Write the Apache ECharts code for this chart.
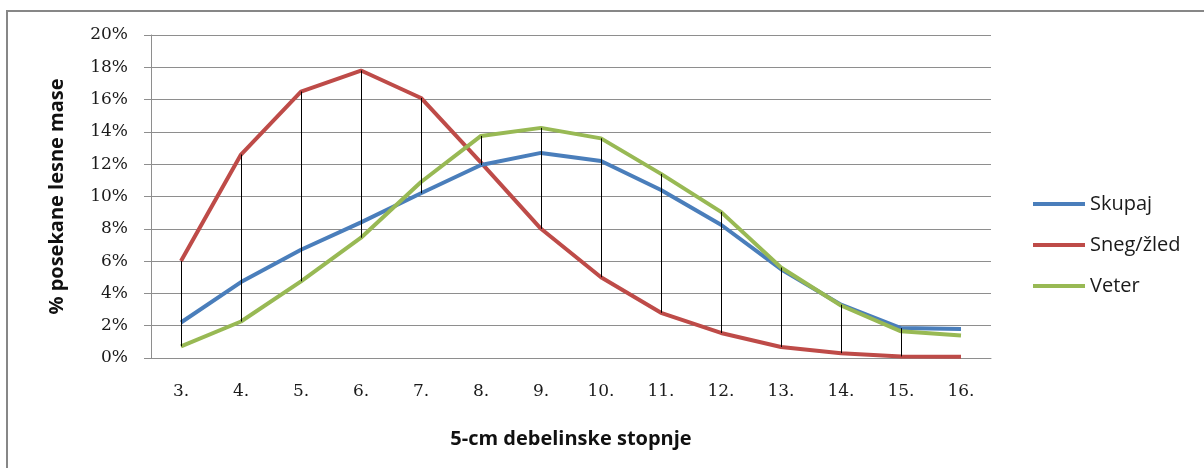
<!DOCTYPE html>
<html>
<head>
<meta charset="utf-8">
<script src="https://cdn.jsdelivr.net/npm/echarts@6/dist/echarts.min.js"></script>
<style>
html,body{margin:0;padding:0;background:#ffffff;}
#chart{width:1204px;height:468px;}
</style>
</head>
<body>
<div id="chart"></div>
<script>
const categories = ['3.', '4.', '5.', '6.', '7.', '8.', '9.', '10.', '11.', '12.', '13.', '14.', '15.', '16.'];
const skupaj = [2.2, 4.7, 6.7, 8.4, 10.2, 11.95, 12.7, 12.2, 10.4, 8.25, 5.5, 3.3, 1.85, 1.8];
const snegZled = [6.0, 12.6, 16.5, 17.8, 16.1, 12.1, 8.0, 5.0, 2.8, 1.55, 0.68, 0.3, 0.1, 0.08];
const veter = [0.72, 2.26, 4.75, 7.45, 10.9, 13.75, 14.25, 13.6, 11.4, 9.05, 5.6, 3.25, 1.65, 1.4];
const seriesNames = ['Skupaj', 'Sneg/žled', 'Veter'];
const yTicks = { min: 0, max: 20, interval: 2 };
const hiLoCount = 13; // high-low lines are drawn for categories 3.–15.

const hiLoData = [];
for (let i = 0; i < hiLoCount; i++) {
  const vals = [skupaj[i], snegZled[i], veter[i]];
  hiLoData.push([i, Math.max(...vals), Math.min(...vals)]);
}

const chart = echarts.init(document.getElementById('chart'), null, { renderer: 'canvas' });
const gridColor = '#8e8e8e';
const lineW = 4;

chart.setOption({
  backgroundColor: '#ffffff',
  animation: false,
  graphic: [{
    type: 'rect',
    shape: { x: 7, y: 11, width: 1400, height: 700 },
    style: { fill: 'none', stroke: '#878787', lineWidth: 2 },
    silent: true
  }],
  grid: { left: 151, right: 213, top: 35, bottom: 110 },
  legend: {
    data: seriesNames,
    orient: 'vertical',
    left: 1028,
    top: 188,
    icon: 'rect',
    itemWidth: 52,
    itemHeight: 4,
    itemGap: 19,
    textStyle: { fontFamily: 'Open Sans', fontSize: 20, color: '#1a1a1a', lineHeight: 22 }
  },
  xAxis: {
    type: 'category',
    data: categories,
    boundaryGap: true,
    name: '5-cm debelinske stopnje',
    nameLocation: 'middle',
    nameGap: 71,
    nameTextStyle: { fontFamily: 'Open Sans', fontWeight: 'bold', fontSize: 20, color: '#111' },
    axisLine: { show: true, lineStyle: { color: gridColor, width: 1 } },
    axisTick: { show: false },
    axisLabel: { fontFamily: 'DejaVu Serif', fontSize: 17, color: '#1a1a1a', margin: 25 },
    splitLine: { show: false }
  },
  yAxis: {
    type: 'value',
    min: yTicks.min,
    max: yTicks.max,
    interval: yTicks.interval,
    name: '% posekane lesne mase',
    nameLocation: 'middle',
    nameGap: 84,
    nameTextStyle: { fontFamily: 'Open Sans', fontWeight: 'bold', fontSize: 20, color: '#111' },
    axisLine: { show: true, lineStyle: { color: gridColor, width: 1 } },
    axisTick: { show: true, length: 7, lineStyle: { color: gridColor, width: 1 } },
    axisLabel: { fontFamily: 'DejaVu Serif', fontSize: 17, color: '#1a1a1a', margin: 23, formatter: '{value}%' },
    splitLine: { show: true, lineStyle: { color: gridColor, width: 1 } }
  },
  series: [
    {
      name: 'Skupaj', type: 'line', data: skupaj, symbol: 'none', smooth: false,
      itemStyle: { color: '#4A7EBB' }, lineStyle: { color: '#4A7EBB', width: lineW }, z: 3
    },
    {
      name: 'Sneg/žled', type: 'line', data: snegZled, symbol: 'none', smooth: false,
      itemStyle: { color: '#BE4B48' }, lineStyle: { color: '#BE4B48', width: lineW }, z: 2
    },
    {
      name: 'Veter', type: 'line', data: veter, symbol: 'none', smooth: false,
      itemStyle: { color: '#98B954' }, lineStyle: { color: '#98B954', width: lineW }, z: 4
    },
    {
      name: 'hilo', type: 'custom', data: hiLoData, z: 5, silent: true,
      encode: { x: 0, y: [1, 2] },
      renderItem: function (params, api) {
        const hi = api.coord([api.value(0), api.value(1)]);
        const lo = api.coord([api.value(0), api.value(2)]);
        return {
          type: 'line',
          shape: { x1: Math.round(hi[0]) + 0.5, y1: hi[1], x2: Math.round(lo[0]) + 0.5, y2: lo[1] },
          style: { stroke: '#000', lineWidth: 1 }
        };
      }
    }
  ]
});
</script>
</body>
</html>
